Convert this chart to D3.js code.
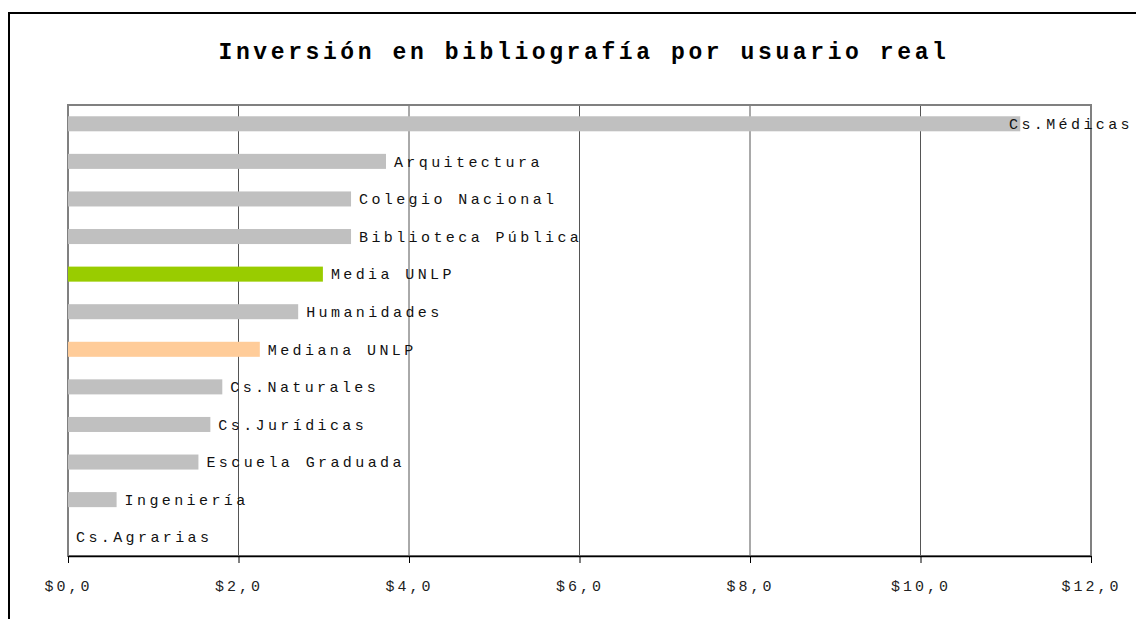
<!DOCTYPE html>
<html><head><meta charset="utf-8">
<script src="https://cdn.jsdelivr.net/npm/d3@7"></script>
<style>body{margin:0;background:#fff}svg{display:block}</style>
</head><body>
<svg id="c" width="1136" height="619"></svg>
<script>
const categories = ["Cs.Médicas","Arquitectura","Colegio Nacional","Biblioteca Pública","Media UNLP","Humanidades","Mediana UNLP","Cs.Naturales","Cs.Jurídicas","Escuela Graduada","Ingeniería","Cs.Agrarias"];
const values = [11.17,3.73,3.32,3.32,2.99,2.70,2.25,1.81,1.67,1.53,0.57,0];
const barColors = ["#C0C0C0","#C0C0C0","#C0C0C0","#C0C0C0","#99CC00","#C0C0C0","#FFCC99","#C0C0C0","#C0C0C0","#C0C0C0","#C0C0C0","#C0C0C0"];
const tickValues = [0,2,4,6,8,10,12];
const title = "Inversión en bibliografía por usuario real";

const W = 1136;
const svg = d3.select("#c");
const m = {l:68, r:1091, t:105, b:556};
const x = d3.scaleLinear().domain([0,12]).range([m.l, m.r]);
const y = d3.scaleBand().domain(categories).range([m.t, m.b]).paddingInner(0.6).paddingOuter(0.3);
const font = "'Liberation Mono','Courier New',monospace";

// outer frame
svg.append("rect").attr("x",9).attr("y",13).attr("width",1140).attr("height",620)
  .attr("fill","none").attr("stroke","#000").attr("stroke-width",2);

// title
svg.append("text").attr("x",584).attr("y",59).attr("text-anchor","middle")
  .attr("font-family",font).attr("font-weight","bold").attr("font-size",23)
  .attr("letter-spacing",3.6).text(title);

// gridlines
svg.append("g").selectAll("line").data(tickValues.slice(1,-1)).join("line")
  .attr("x1",d=>x(d)).attr("x2",d=>x(d)).attr("y1",m.t).attr("y2",m.b)
  .attr("stroke","#555").attr("stroke-width",1);

// plot border
svg.append("rect").attr("x",m.l).attr("y",m.t).attr("width",m.r-m.l).attr("height",m.b-m.t)
  .attr("fill","none").attr("stroke","#808080").attr("stroke-width",2);

// bars
svg.append("g").selectAll("rect").data(categories).join("rect")
  .attr("x",x(0)).attr("y",d=>y(d)).attr("height",y.bandwidth())
  .attr("width",(d,i)=>x(values[i])-x(0)).attr("fill",(d,i)=>barColors[i]);

// bar labels
const labels = svg.append("g").selectAll("text").data(categories).join("text")
  .attr("y",d=>y(d)+y.bandwidth()/2)
  .attr("dy","0.35em").attr("font-family",font).attr("font-size",15)
  .attr("letter-spacing",3.4).attr("fill","#111").text(d=>d);
labels.each(function(d,i){
  const w = this.getComputedTextLength();
  const px = Math.min(x(values[i])+8, W - 3 - w);
  d3.select(this).attr("x", px);
});

// x axis
const axis = d3.axisBottom(x).tickValues(tickValues).tickSize(7).tickSizeOuter(0)
  .tickFormat(d=>"$"+d+",0");
const ax = svg.append("g").attr("transform",`translate(0,${m.b})`).call(axis);
ax.select(".domain").attr("stroke","#000").attr("stroke-width",1.5);
ax.selectAll(".tick line").attr("stroke","#000");
ax.selectAll(".tick text").attr("font-family",font).attr("font-size",15)
  .attr("letter-spacing",3).attr("fill","#222").attr("dy","1.65em");
</script>
</body></html>
